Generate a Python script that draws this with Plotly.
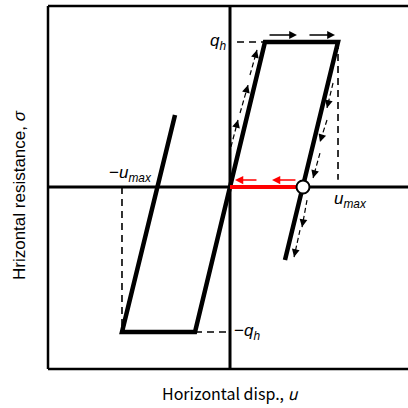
import plotly.graph_objects as go

# Bilinear hysteresis loop (normalised: u_max = 1, q_h = 1)
U_MAX = 1.0
Q_H = 1.0
U_Y = 0.324

# Main loop outline
loop_u = [-0.509, -1.0, -0.324, 0.324, 1.0, 0.509]
loop_q = [0.497, -1.0, -1.0, 1.0, 1.0, -0.503]

# Unloading point and return path (red)
unload_u = 0.676
return_u = [0.0, 0.676]
return_q = [0.0, 0.0]

# Direction arrows along the path: (u_tail, q_tail, u_head, q_head)
up_arrows = [
    (0.009, 0.276, 0.074, 0.462),
    (0.093, 0.510, 0.167, 0.703),
    (0.185, 0.772, 0.250, 0.945),
]
top_arrows = [
    (0.352, 1.048, 0.620, 1.048),
    (0.722, 1.048, 0.972, 1.048),
]
down_arrows = [
    (0.954, 0.717, 0.898, 0.545),
    (0.898, 0.462, 0.833, 0.310),
    (0.833, 0.234, 0.769, 0.062),
    (0.713, -0.090, 0.667, -0.276),
    (0.648, -0.297, 0.593, -0.483),
]
red_arrows = [
    (0.259, 0.048, 0.046, 0.048),
    (0.620, 0.048, 0.389, 0.048),
]

X_RANGE = [-1.685, 1.648]
Y_RANGE = [-1.255, 1.248]

FONT = "Liberation Sans, Arial, sans-serif"
TITLE_FONT = "Noto Sans CJK JP, Liberation Sans, sans-serif"

fig = go.Figure()

# Axes through the origin
fig.add_trace(go.Scatter(x=X_RANGE, y=[0, 0], mode="lines",
                         line=dict(color="black", width=3), hoverinfo="skip"))
fig.add_trace(go.Scatter(x=[0, 0], y=Y_RANGE, mode="lines",
                         line=dict(color="black", width=3), hoverinfo="skip"))

# Guide lines
dash = "7px,5px"
guides = [
    ([0.065, U_Y], [Q_H, Q_H]),
    ([U_MAX, U_MAX], [Q_H, 0.05]),
    ([-U_MAX, -U_MAX], [0, -Q_H]),
    ([-U_Y, 0], [-Q_H, -Q_H]),
]
for gx, gy in guides:
    fig.add_trace(go.Scatter(x=gx, y=gy, mode="lines",
                             line=dict(color="black", width=1.6, dash=dash),
                             hoverinfo="skip"))

# Hysteresis loop
fig.add_trace(go.Scatter(x=loop_u, y=loop_q, mode="lines",
                         line=dict(color="black", width=4.5),
                         hoverinfo="skip"))

# Return path to origin
fig.add_trace(go.Scatter(x=return_u, y=return_q, mode="lines",
                         line=dict(color="#ff0000", width=4),
                         hoverinfo="skip"))

# Dashed-shaft arrows along the loop
for arr in up_arrows + down_arrows:
    u0, q0, u1, q1 = arr
    fig.add_trace(go.Scatter(x=[u0, u1], y=[q0, q1], mode="lines",
                             line=dict(color="black", width=1.2, dash="5px,3px"),
                             hoverinfo="skip"))

annotations = []


def head(u0, q0, u1, q1, color, frac=0.25):
    return dict(x=u1, y=q1, ax=u1 - (u1 - u0) * frac, ay=q1 - (q1 - q0) * frac,
                xref="x", yref="y", axref="x", ayref="y", text="",
                showarrow=True, arrowhead=2, arrowsize=1.2, arrowwidth=1.3,
                arrowcolor=color)


for arr in up_arrows + down_arrows:
    annotations.append(head(*arr, "black"))

for u0, q0, u1, q1 in top_arrows:
    annotations.append(dict(x=u1, y=q1, ax=u0, ay=q0, xref="x", yref="y",
                            axref="x", ayref="y", text="", showarrow=True,
                            arrowhead=2, arrowsize=1.2, arrowwidth=1.3,
                            arrowcolor="black"))

for u0, q0, u1, q1 in red_arrows:
    annotations.append(dict(x=u1, y=q1, ax=u0, ay=q0, xref="x", yref="y",
                            axref="x", ayref="y", text="", showarrow=True,
                            arrowhead=2, arrowsize=1.1, arrowwidth=1.5,
                            arrowcolor="#ff0000"))

# Unloading point marker
fig.add_trace(go.Scatter(x=[unload_u], y=[0], mode="markers",
                         marker=dict(size=13, color="white",
                                     line=dict(color="black", width=2)),
                         hoverinfo="skip"))

# Symbol labels
lab_font = dict(family=FONT, size=17, color="black")
annotations += [
    dict(x=-0.02, y=Q_H, xref="x", yref="y", text="<i>q</i><sub><i>h</i></sub>",
         showarrow=False, xanchor="right", yanchor="middle", font=lab_font),
    dict(x=0.02, y=-Q_H, xref="x", yref="y", text="−<i>q</i><sub><i>h</i></sub>",
         showarrow=False, xanchor="left", yanchor="middle", font=lab_font),
    dict(x=-1.14, y=0.0, xref="x", yref="y", text="−<i>u</i><sub><i>max</i></sub>",
         showarrow=False, xanchor="left", yanchor="bottom", font=lab_font),
    dict(x=0.94, y=-0.0, xref="x", yref="y", text="<i>u</i><sub><i>max</i></sub>",
         showarrow=False, xanchor="left", yanchor="top", font=lab_font),
]

fig.update_layout(
    width=408, height=408,
    margin=dict(l=48, r=0, t=6, b=39),
    paper_bgcolor="white", plot_bgcolor="white",
    showlegend=False,
    xaxis=dict(range=X_RANGE, visible=False, fixedrange=True),
    yaxis=dict(range=Y_RANGE, visible=False, fixedrange=True),
)

# Axis titles, positioned in paper fractions of the plotting area
plot_w, plot_h = 408 - 48, 408 - 6 - 39
annotations.append(dict(x=(230 - 48) / plot_w, y=(408 - 39 - 393) / plot_h,
                        xref="paper", yref="paper",
                        text="Horizontal disp., <i>u</i>", showarrow=False,
                        xanchor="center", yanchor="middle",
                        font=dict(family=TITLE_FONT, size=16, color="black")))
annotations.append(dict(x=(19 - 48) / plot_w, y=(408 - 39 - 195) / plot_h,
                        xref="paper", yref="paper", textangle=-90,
                        text="Hrizontal resistance, <i>σ</i>", showarrow=False,
                        xanchor="center", yanchor="middle",
                        font=dict(family=FONT, size=17, color="black")))

fig.update_layout(annotations=annotations)

# Frame: left, top and bottom borders of the plotting area
frame = dict(color="black", width=2.5)
fig.add_shape(type="line", xref="paper", yref="paper", x0=0, x1=0, y0=0, y1=1, line=frame)
fig.add_shape(type="line", xref="paper", yref="paper", x0=0, x1=1, y0=1, y1=1, line=frame)
fig.add_shape(type="line", xref="paper", yref="paper", x0=0, x1=1, y0=0, y1=0, line=frame)

fig.write_html("out.html")
